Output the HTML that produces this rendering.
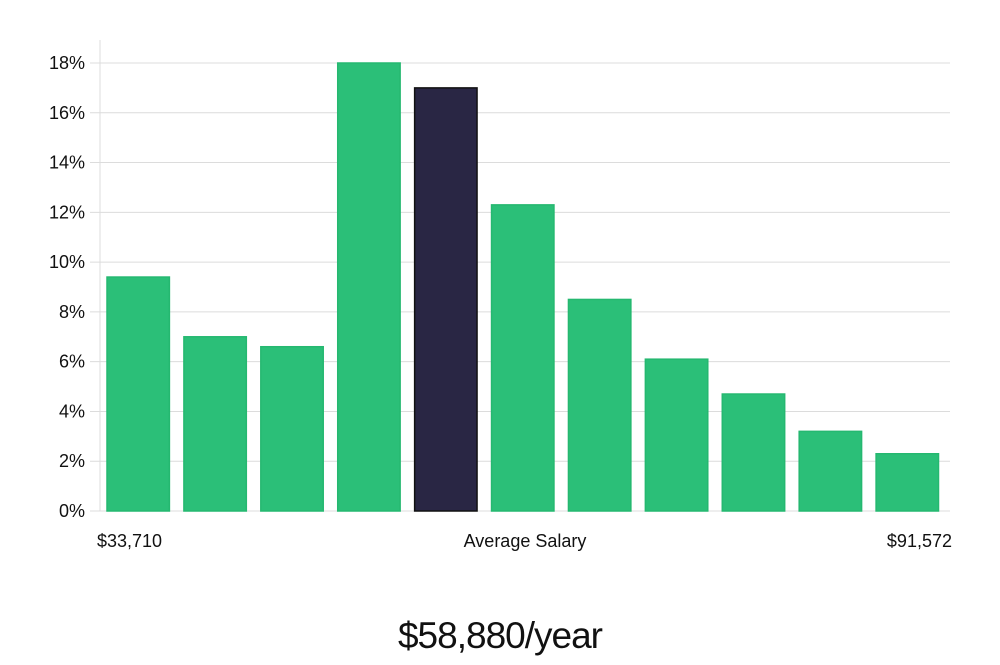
<!DOCTYPE html>
<html>
<head>
<meta charset="utf-8">
<style>
  html,body{margin:0;padding:0;background:#fff;}
  body{width:1000px;height:660px;overflow:hidden;font-family:"Liberation Sans",sans-serif;}
  svg text{font-family:"Liberation Sans",sans-serif;}
</style>
</head>
<body>
<svg id="chart" width="1000" height="660" xmlns="http://www.w3.org/2000/svg"></svg>
<script>
const categories = ["b1","b2","b3","b4","b5","b6","b7","b8","b9","b10","b11"];
const values = [9.4, 7.0, 6.6, 18.0, 17.0, 12.3, 8.5, 6.1, 4.7, 3.2, 2.3];
const highlightIndex = 4;
const yTicks = [0, 2, 4, 6, 8, 10, 12, 14, 16, 18];
const yTickLabels = ["0%","2%","4%","6%","8%","10%","12%","14%","16%","18%"];
const xLabels = ["$33,710", "Average Salary", "$91,572"];
const titleText = "$58,880/year";

const svg = document.getElementById('chart');
const NS = "http://www.w3.org/2000/svg";
const left = 100, right = 950, y0 = 511, yTop18 = 63;
function yScale(v){ return y0 - (v/18)*(y0-yTop18); }
const step = (right - left - 4) / categories.length;
function xScale(i){ return left + 7 + i*step; }
const barW = step - 14.5;

function mk(tag, attrs){ const e = document.createElementNS(NS, tag); for (const k in attrs) e.setAttribute(k, attrs[k]); svg.appendChild(e); return e; }

// gridlines & ticks
yTicks.forEach((t,i)=>{
  const y = yScale(t);
  const g = mk('line',{x1:90,x2:right,y1:y,y2:y,stroke:'#dcdcdc','stroke-width':1});
  
  
  const lab = mk('text',{x:85,y:y+6,'text-anchor':'end','font-size':18,fill:'#111'});
  lab.textContent = yTickLabels[i];
  
  
});
const ax = mk('line',{x1:left,x2:left,y1:40,y2:y0,stroke:'#dcdcdc','stroke-width':1});



// bars
values.forEach((v,i)=>{
  const hi = i === highlightIndex;
  const r = mk('rect',{x:xScale(i),y:yScale(v),width:barW,height:y0-yScale(v),
    fill: hi ? '#292644' : '#2bbf78', stroke: hi ? '#111' : '#25b870','stroke-width':1.5});
  
  
});

// x labels
const xl = [[97,'start'],[525,'middle'],[952,'end']];
xLabels.forEach((s,i)=>{
  const t = mk('text',{x:xl[i][0],y:547,'text-anchor':xl[i][1],'font-size':18,fill:'#111'});
  t.textContent = s;
  
  
});

const title = mk('text',{x:500,y:648,'text-anchor':'middle','font-size':37,fill:'#111','letter-spacing':'-1'});
title.textContent = titleText;


</script>
</body>
</html>
